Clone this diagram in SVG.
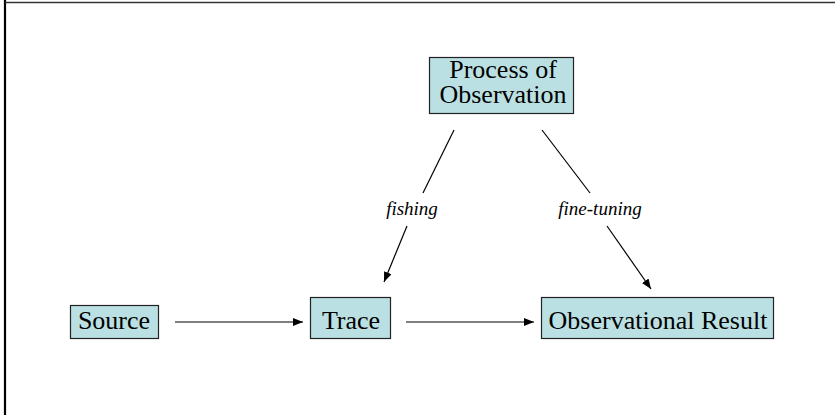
<svg xmlns="http://www.w3.org/2000/svg" width="835" height="415" viewBox="0 0 835 415">
<style>
.box{fill:#BBE0E3;stroke:#222;stroke-width:1.2}
.t{font-family:"Liberation Serif","Times New Roman",serif;font-size:26px;fill:#000;text-anchor:middle}
.lbl{font-family:"Liberation Serif","Times New Roman",serif;font-size:19px;font-style:italic;fill:#000;text-anchor:middle}
.c{stroke:#000;stroke-width:1.2;fill:none}
</style>
<defs>
<marker id="ah" viewBox="0 0 10 8" refX="10" refY="4" markerWidth="10" markerHeight="8" markerUnits="userSpaceOnUse" orient="auto">
<path d="M0,0 L10,4 L0,8 Z" fill="#000"/>
</marker>
</defs>
<rect width="835" height="415" fill="#fff"/>
<g id="frame">
<line x1="5" y1="0" x2="5" y2="415" stroke="#000" stroke-width="2.2"/>
<line x1="5" y1="2.5" x2="835" y2="2.5" stroke="#333" stroke-width="1.3"/>
</g>
<g id="connectors">
<line class="c" x1="175" y1="322" x2="303" y2="322" marker-end="url(#ah)"/>
<line class="c" x1="406" y1="322" x2="534" y2="322" marker-end="url(#ah)"/>
<line class="c" x1="454" y1="130" x2="423" y2="193"/>
<line class="c" x1="407" y1="226" x2="384" y2="282" marker-end="url(#ah)"/>
<text class="lbl" x="412" y="215">fishing</text>
<line class="c" x1="542" y1="130" x2="590" y2="193"/>
<line class="c" x1="607" y1="226" x2="651" y2="289" marker-end="url(#ah)"/>
<text class="lbl" x="600" y="215">fine-tuning</text>
</g>
<g id="process">
<rect class="box" x="429.5" y="57.5" width="144" height="56"/>
<text class="t" x="503" y="78">Process of</text>
<text class="t" x="503" y="103">Observation</text>
</g>
<g id="source">
<rect class="box" x="70.5" y="305.5" width="88" height="33"/>
<text class="t" x="114" y="329">Source</text>
</g>
<g id="trace">
<rect class="box" x="310.5" y="297.5" width="80" height="41"/>
<text class="t" x="351" y="329">Trace</text>
</g>
<g id="result">
<rect class="box" x="541.5" y="297.5" width="232" height="41"/>
<text class="t" x="658" y="329">Observational Result</text>
</g>
</svg>
